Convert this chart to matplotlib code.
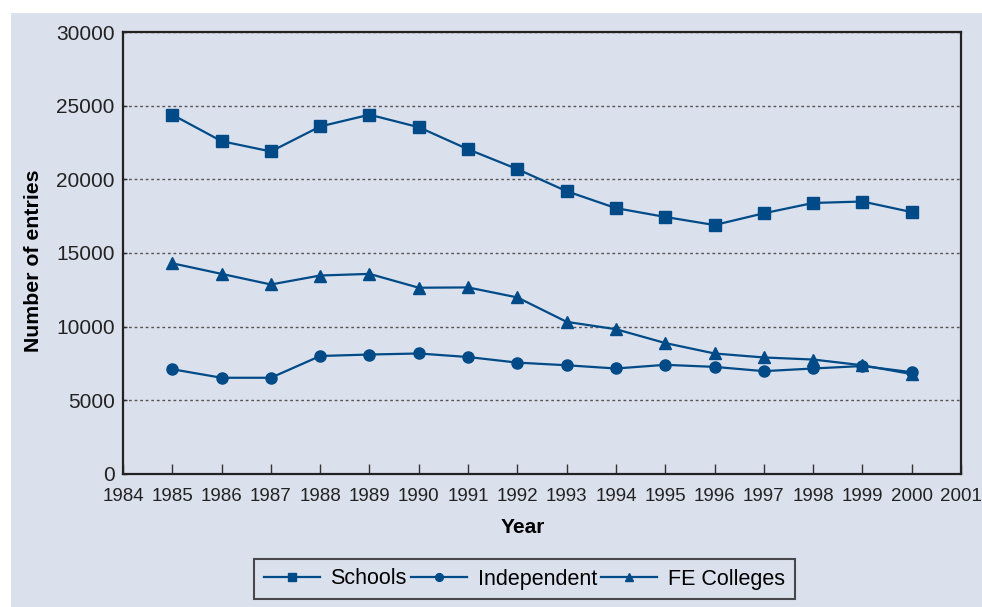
import matplotlib.pyplot as plt
from matplotlib.patches import Rectangle

years = list(range(1985, 2001))
schools = [24400, 22600, 21900, 23600, 24400, 23550, 22050, 20700,
           19200, 18050, 17450, 16900, 17700, 18400, 18500, 17780]
independent = [7100, 6520, 6520, 8000, 8100, 8170, 7930, 7550,
               7370, 7150, 7400, 7260, 6970, 7150, 7320, 6900]
fe_colleges = [14300, 13580, 12860, 13470, 13580, 12640, 12660, 11980,
               10320, 9820, 8880, 8170, 7900, 7760, 7370, 6770]

BG = '#dbe0ed'
LINE = '#004b87'

plt.rcParams['font.family'] = ['Liberation Sans', 'DejaVu Sans']

fig = plt.figure(figsize=(9.82, 6.07), dpi=100)
fig.patch.set_facecolor('white')
fig.patches.append(Rectangle((11 / 982, 0), 1, 1 - 13 / 607,
                             transform=fig.transFigure, facecolor=BG,
                             edgecolor='none', zorder=-10))

ax = fig.add_axes([123 / 982, 133.3 / 607, 838 / 982, 441.4 / 607])
ax.set_facecolor(BG)

ax.plot(years, schools, color=LINE, lw=1.6, marker='s', ms=8, label='Schools')
ax.plot(years, independent, color=LINE, lw=1.6, marker='o', ms=8, label='Independent')
ax.plot(years, fe_colleges, color=LINE, lw=1.6, marker='^', ms=9, label='FE Colleges')

ax.set_xlim(1984, 2001)
ax.set_ylim(0, 30000)
ax.set_xticks(range(1984, 2002))
ax.set_yticks(range(0, 30001, 5000))
ax.yaxis.grid(True, linestyle=(0, (2, 2)), color='#555555', lw=1)
ax.set_axisbelow(True)

ax.tick_params(axis='x', direction='in', length=7, width=1, color='#333333',
               labelsize=13.5, pad=10, labelcolor='#222222')
ax.tick_params(axis='y', direction='in', length=3, width=1, color='#333333',
               labelsize=15, pad=6, labelcolor='#222222')
for s in ax.spines.values():
    s.set_color('#222222')
    s.set_linewidth(1.6)

ax.set_xlabel('Year', fontsize=15, fontweight='bold')
ax.set_ylabel('Number of entries', fontsize=15.3, fontweight='bold')
ax.xaxis.set_label_coords((523 - 123) / 838, -0.1)
ax.yaxis.set_label_coords(-(123 - 43) / 838, (473.7 - 261) / 441.4)

leg = fig.legend(loc='center', bbox_to_anchor=(524.5 / 982, 1 - 579 / 607),
                 ncol=3, frameon=True, fancybox=False, fontsize=15.5,
                 handlelength=2.6, handletextpad=0.5, columnspacing=0.2,
                 borderpad=0.45, markerscale=0.7)
leg.get_frame().set_facecolor(BG)
leg.get_frame().set_edgecolor('#222222')
leg.get_frame().set_linewidth(1.5)

fig.savefig('out.png', dpi=100, facecolor=fig.get_facecolor())
